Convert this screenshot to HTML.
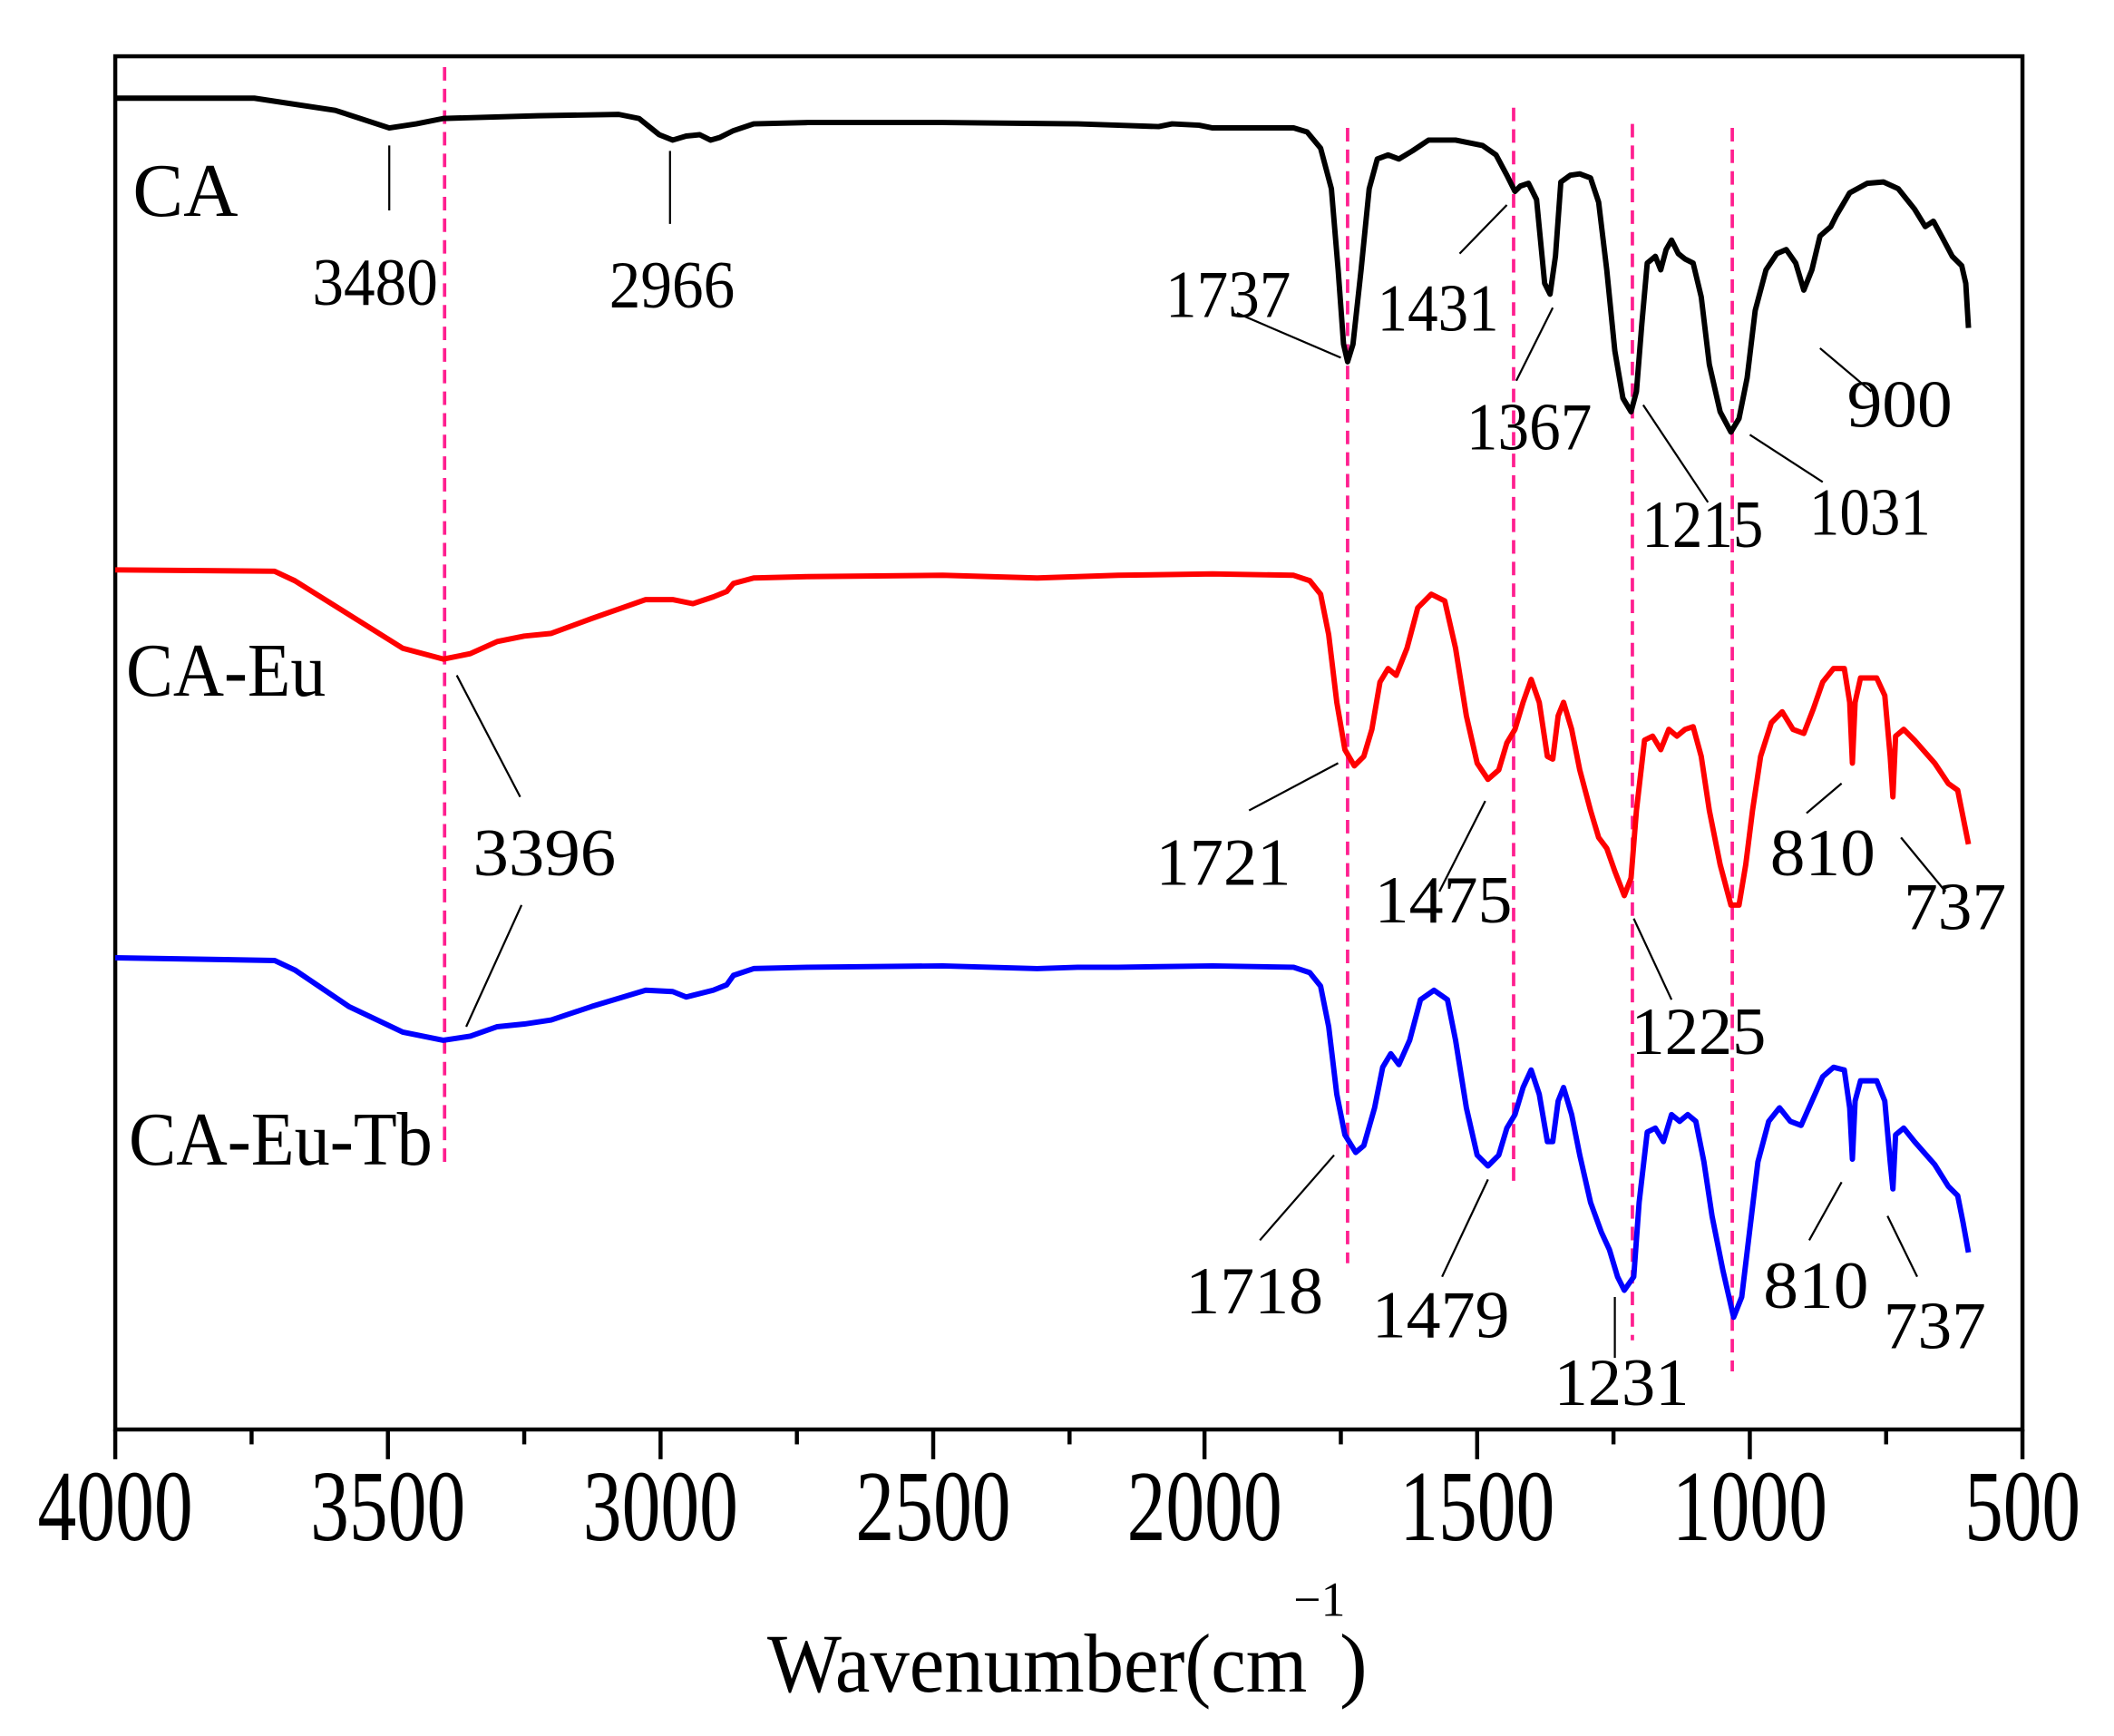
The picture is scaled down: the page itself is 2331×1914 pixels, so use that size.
<!DOCTYPE html>
<html><head><meta charset="utf-8"><style>html,body{margin:0;padding:0;background:#fff}svg{display:block}</style></head>
<body>
<svg width="2331" height="1914" viewBox="0 0 1559 1280" preserveAspectRatio="none" xmlns="http://www.w3.org/2000/svg" font-family="'Liberation Serif',serif">
<rect width="1559" height="1280" fill="#fff"/>
<g transform="matrix(0.9954,0,0,0.99655,-1.6,-0.35)">
<!-- frame -->
<rect x="87" y="42" width="1413" height="1016" fill="none" stroke="#000" stroke-width="3"/>
<!-- ticks -->
<g stroke="#000" stroke-width="3">
<line x1="87" y1="1058" x2="87" y2="1080"/><line x1="188" y1="1058" x2="188" y2="1069"/>
<line x1="289" y1="1058" x2="289" y2="1080"/><line x1="390" y1="1058" x2="390" y2="1069"/>
<line x1="491" y1="1058" x2="491" y2="1080"/><line x1="592" y1="1058" x2="592" y2="1069"/>
<line x1="693" y1="1058" x2="693" y2="1080"/><line x1="794" y1="1058" x2="794" y2="1069"/>
<line x1="894" y1="1058" x2="894" y2="1080"/><line x1="995" y1="1058" x2="995" y2="1069"/>
<line x1="1096" y1="1058" x2="1096" y2="1080"/><line x1="1197" y1="1058" x2="1197" y2="1069"/>
<line x1="1298" y1="1058" x2="1298" y2="1080"/><line x1="1399" y1="1058" x2="1399" y2="1069"/>
<line x1="1500" y1="1058" x2="1500" y2="1080"/>
</g>
<g font-size="75" text-anchor="middle" fill="#000">
<text x="87" y="1140" textLength="115" lengthAdjust="spacingAndGlyphs">4000</text>
<text x="289" y="1140" textLength="115" lengthAdjust="spacingAndGlyphs">3500</text>
<text x="491" y="1140" textLength="115" lengthAdjust="spacingAndGlyphs">3000</text>
<text x="693" y="1140" textLength="115" lengthAdjust="spacingAndGlyphs">2500</text>
<text x="894" y="1140" textLength="115" lengthAdjust="spacingAndGlyphs">2000</text>
<text x="1096" y="1140" textLength="115" lengthAdjust="spacingAndGlyphs">1500</text>
<text x="1298" y="1140" textLength="115" lengthAdjust="spacingAndGlyphs">1000</text>
<text x="1500" y="1140" textLength="86" lengthAdjust="spacingAndGlyphs">500</text>
</g>
<text x="570" y="1252" font-size="62" textLength="400" lengthAdjust="spacingAndGlyphs">Wavenumber(cm</text>
<text x="960" y="1196" font-size="36">−1</text>
<text x="994" y="1252" font-size="62">)</text>

<!-- dashed pink -->
<g stroke="#ff1f8f" stroke-width="2.5" stroke-dasharray="10,6">
<line x1="331" y1="50" x2="331" y2="865"/>
<line x1="1000" y1="95" x2="1000" y2="935"/>
<line x1="1123" y1="80" x2="1123" y2="875"/>
<line x1="1211" y1="92" x2="1211" y2="992"/>
<line x1="1285" y1="95" x2="1285" y2="1015"/>
</g>

<!-- series -->
<g fill="none" stroke-width="4" stroke-linejoin="round">
<polyline stroke="#000" points="87,73 190,73 250,82 290,95 310,92 330,88 400,86 460,85 475,88 490,100 500,104 510,101 520,100 528,104 535,102 545,97 560,92 600,91 700,91 800,92 830,93 860,94 870,92 890,93 900,95 960,95 970,98 980,110 988,140 993,200 997,255 1000,268 1004,255 1010,200 1016,140 1022,118 1030,115 1038,118 1048,112 1060,104 1080,104 1100,108 1110,115 1118,130 1124,142 1128,138 1134,136 1140,148 1146,210 1150,218 1154,190 1158,135 1165,130 1172,129 1180,132 1186,150 1192,200 1198,260 1204,295 1210,305 1214,290 1218,240 1222,195 1228,190 1232,200 1236,185 1240,178 1245,188 1250,192 1256,195 1262,220 1268,270 1276,305 1284,320 1290,310 1296,280 1302,230 1310,200 1318,188 1325,185 1332,195 1338,215 1344,200 1350,175 1358,168 1362,160 1372,143 1385,136 1397,135 1408,140 1420,155 1428,168 1434,164 1440,175 1448,190 1455,197 1458,210 1460,243"/>
<polyline stroke="#f00" points="87,422 205,423 220,430 260,455 300,480 330,488 350,484 370,475 390,471 410,469 440,458 480,444 500,444 515,447 530,442 540,438 545,432 560,428 600,427 700,426 770,428 800,427 830,426 900,425 960,426 972,430 980,440 986,470 992,520 998,555 1005,567 1012,560 1018,540 1024,505 1030,495 1036,500 1044,480 1052,450 1062,440 1072,445 1080,480 1088,530 1096,565 1104,577 1112,570 1118,550 1124,540 1130,520 1136,503 1142,520 1148,560 1152,562 1156,530 1160,520 1166,540 1172,570 1180,600 1186,620 1192,628 1198,645 1205,663 1210,650 1214,600 1220,548 1226,545 1232,555 1238,540 1244,545 1250,540 1256,538 1262,560 1268,600 1276,640 1284,670 1290,670 1295,640 1300,600 1306,560 1314,535 1322,527 1330,540 1338,543 1345,525 1352,505 1360,495 1368,495 1372,520 1374,565 1376,520 1380,502 1392,502 1398,515 1402,560 1404,590 1406,545 1412,540 1420,548 1435,565 1445,580 1452,585 1456,605 1460,625"/>
<polyline stroke="#00f" points="87,709 205,711 220,718 260,745 300,764 330,770 350,767 370,760 390,758 410,755 440,745 480,733 500,734 510,738 530,733 540,729 545,722 560,717 600,716 700,715 770,717 800,716 830,716 900,715 960,716 972,720 980,730 986,760 992,810 998,840 1006,853 1012,848 1020,820 1026,790 1032,780 1038,788 1046,770 1054,740 1064,733 1074,740 1080,770 1088,820 1096,855 1104,863 1112,855 1118,835 1124,825 1130,805 1136,792 1142,810 1148,845 1152,845 1156,815 1160,805 1166,825 1172,855 1180,890 1188,912 1194,925 1200,945 1205,955 1212,945 1216,890 1222,838 1228,835 1234,845 1240,825 1246,830 1252,825 1258,830 1264,860 1270,900 1278,940 1286,975 1292,960 1298,910 1304,860 1312,830 1320,820 1328,830 1336,833 1344,815 1352,797 1360,790 1368,792 1372,820 1374,858 1376,815 1380,800 1392,800 1398,815 1402,860 1404,880 1406,840 1412,835 1420,845 1435,862 1445,878 1452,885 1456,905 1460,927"/>
</g>

<!-- annotation lines -->
<g stroke="#000" stroke-width="1.5">
<line x1="290" y1="108" x2="290" y2="156"/>
<line x1="498" y1="112" x2="498" y2="166"/>
<line x1="918" y1="232" x2="995" y2="265"/>
<line x1="1083" y1="188" x2="1118" y2="152"/>
<line x1="1125" y1="282" x2="1152" y2="228"/>
<line x1="1350" y1="258" x2="1388" y2="290"/>
<line x1="1219" y1="300" x2="1267" y2="372"/>
<line x1="1298" y1="322" x2="1352" y2="357"/>
<line x1="340" y1="500" x2="387" y2="590"/>
<line x1="347" y1="760" x2="388" y2="670"/>
<line x1="927" y1="600" x2="993" y2="565"/>
<line x1="1068" y1="660" x2="1102" y2="593"/>
<line x1="1340" y1="602" x2="1366" y2="580"/>
<line x1="1410" y1="620" x2="1443" y2="660"/>
<line x1="1212" y1="680" x2="1240" y2="740"/>
<line x1="935" y1="918" x2="990" y2="855"/>
<line x1="1070" y1="945" x2="1104" y2="873"/>
<line x1="1198" y1="960" x2="1198" y2="1005"/>
<line x1="1342" y1="918" x2="1366" y2="875"/>
<line x1="1400" y1="900" x2="1422" y2="945"/>
</g>

<g font-size="50" fill="#000">
<text x="233" y="226" textLength="93" lengthAdjust="spacingAndGlyphs">3480</text>
<text x="453" y="228" textLength="93" lengthAdjust="spacingAndGlyphs">2966</text>
<text x="865" y="235" textLength="93" lengthAdjust="spacingAndGlyphs">1737</text>
<text x="1022" y="245" textLength="90" lengthAdjust="spacingAndGlyphs">1431</text>
<text x="1088" y="333" textLength="93" lengthAdjust="spacingAndGlyphs">1367</text>
<text x="1370" y="316" textLength="78" lengthAdjust="spacingAndGlyphs">900</text>
<text x="1218" y="405" textLength="90" lengthAdjust="spacingAndGlyphs">1215</text>
<text x="1342" y="396" textLength="90" lengthAdjust="spacingAndGlyphs">1031</text>
<text x="352" y="648" textLength="106" lengthAdjust="spacingAndGlyphs">3396</text>
<text x="858" y="655" textLength="100" lengthAdjust="spacingAndGlyphs">1721</text>
<text x="1020" y="683" textLength="102" lengthAdjust="spacingAndGlyphs">1475</text>
<text x="1313" y="648" textLength="78" lengthAdjust="spacingAndGlyphs">810</text>
<text x="1412" y="688" textLength="76" lengthAdjust="spacingAndGlyphs">737</text>
<text x="1210" y="780" textLength="100" lengthAdjust="spacingAndGlyphs">1225</text>
<text x="880" y="972" textLength="102" lengthAdjust="spacingAndGlyphs">1718</text>
<text x="1018" y="990" textLength="102" lengthAdjust="spacingAndGlyphs">1479</text>
<text x="1153" y="1040" textLength="100" lengthAdjust="spacingAndGlyphs">1231</text>
<text x="1308" y="968" textLength="78" lengthAdjust="spacingAndGlyphs">810</text>
<text x="1397" y="998" textLength="76" lengthAdjust="spacingAndGlyphs">737</text>
</g>
<g font-size="56" fill="#000">
<text x="100" y="160" textLength="78" lengthAdjust="spacingAndGlyphs">CA</text>
<text x="95" y="515" textLength="148" lengthAdjust="spacingAndGlyphs">CA-Eu</text>
<text x="97" y="862" textLength="225" lengthAdjust="spacingAndGlyphs">CA-Eu-Tb</text>
</g>
</g>
</svg>
</body></html>
